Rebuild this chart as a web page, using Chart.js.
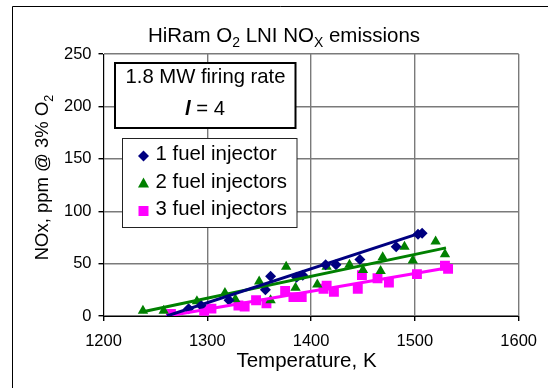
<!DOCTYPE html>
<html>
<head>
<meta charset="utf-8">
<script src="https://cdn.jsdelivr.net/npm/chart.js@4.4.0/dist/chart.umd.min.js"></script>
<style>
  html, body { margin: 0; padding: 0; background: #fff; }
  #wrap { width: 548px; height: 388px; }
</style>
</head>
<body>
<div id="wrap"><canvas id="chart"></canvas></div>
<script>
// NOx emissions vs temperature, 1, 2 and 3 fuel injectors
const oneInjT   = [1282, 1294, 1321, 1356, 1361, 1386, 1392, 1414, 1424, 1447, 1482, 1503, 1507];
const oneInjNox = [7, 10, 15, 25, 38, 37, 39, 49, 49, 54, 66, 78, 79];

const twoInjT   = [1238, 1258, 1290, 1317, 1327, 1350, 1361, 1376, 1385, 1406, 1415, 1437, 1450, 1467, 1469, 1490, 1498, 1520, 1529];
const twoInjNox = [5, 5, 14, 22, 16, 33, 15, 47, 27, 30, 47, 49, 44, 43, 56, 66, 53, 71, 59];

const threeInjT   = [1265, 1297, 1304, 1330, 1336, 1347, 1357, 1375, 1383, 1391, 1412, 1415, 1422, 1445, 1449, 1464, 1475, 1502, 1529, 1532];
const threeInjNox = [2, 5, 7, 10, 9, 15, 12, 24, 18, 18, 26, 29, 23, 26, 39, 36, 32, 40, 48, 45];

// linear trend lines (end points)
const oneFitT = [1261, 1508],   oneFitNox = [0, 80];
const twoFitT = [1238, 1530],   twoFitNox = [4, 65];
const threeFitT = [1262, 1532], threeFitNox = [0, 46];

const xTicks = [1200, 1300, 1400, 1500, 1600];
const yTicks = [0, 50, 100, 150, 200, 250];

const seriesNames = ['1 fuel injector', '2 fuel injectors', '3 fuel injectors'];

const NAVY = '#000080', GREEN = '#008000', PINK = '#ff00ff';
const FONT = '"Liberation Sans", Arial, sans-serif';

const pts = (xs, ys) => xs.map((x, i) => ({ x: x, y: ys[i] }));

function font(size, style) {
  return (style || '') + ' ' + size + 'px ' + FONT;
}

// draws text with subscript pieces, centred on x, baseline at y
function drawRich(ctx, parts, x, y, size) {
  let w = 0;
  parts.forEach(p => {
    ctx.font = font(p.sub ? size * 0.68 : size, p.style);
    w += ctx.measureText(p.t).width;
  });
  let cx = x - w / 2;
  ctx.textAlign = 'left';
  ctx.textBaseline = 'alphabetic';
  parts.forEach(p => {
    ctx.font = font(p.sub ? size * 0.68 : size, p.style);
    ctx.fillText(p.t, cx, y + (p.sub ? size * 0.25 : 0));
    cx += ctx.measureText(p.t).width;
  });
}

function marker(ctx, style, x, y, color) {
  ctx.fillStyle = color;
  ctx.beginPath();
  if (style === 'rectRot') {
    ctx.moveTo(x - 5.5, y); ctx.lineTo(x, y - 5.5); ctx.lineTo(x + 5.5, y); ctx.lineTo(x, y + 5.5);
  } else if (style === 'triangle') {
    ctx.moveTo(x, y - 6); ctx.lineTo(x + 5.5, y + 4); ctx.lineTo(x - 5.5, y + 4);
  } else {
    ctx.rect(x - 5, y - 5, 10, 10);
  }
  ctx.closePath();
  ctx.fill();
}

const decorations = {
  id: 'decorations',
  beforeDraw(chart) {
    const ctx = chart.ctx;
    ctx.save();
    ctx.fillStyle = '#fff';
    ctx.fillRect(0, 0, chart.width, chart.height);
    ctx.restore();
  },
  afterDraw(chart) {
    const ctx = chart.ctx;
    ctx.save();
    // outer frame
    ctx.strokeStyle = '#000';
    ctx.lineWidth = 1;
    ctx.beginPath();
    ctx.moveTo(12.5, 388); ctx.lineTo(12.5, 6.5); ctx.lineTo(548, 6.5);
    ctx.stroke();

    ctx.fillStyle = '#000';
    // chart title
    drawRich(ctx, [{ t: 'HiRam O' }, { t: '2', sub: true }, { t: ' LNI NO' }, { t: 'X', sub: true }, { t: ' emissions' }], 284, 41.5, 20.5);
    // x axis title
    drawRich(ctx, [{ t: 'Temperature, K' }], 306.5, 367, 20.5);
    // y axis title
    ctx.save();
    ctx.translate(48, 177.5);
    ctx.rotate(-Math.PI / 2);
    drawRich(ctx, [{ t: 'NOx, ppm @ 3% O' }, { t: '2', sub: true }], 0, 0, 18.5);
    ctx.restore();

    // condition box
    ctx.fillStyle = '#fff';
    ctx.fillRect(115, 63, 180.5, 65);
    ctx.strokeStyle = '#000';
    ctx.lineWidth = 2;
    ctx.strokeRect(115, 63, 180.5, 65);
    ctx.fillStyle = '#000';
    drawRich(ctx, [{ t: '1.8 MW firing rate' }], 205.5, 83.3, 20.3);
    drawRich(ctx, [{ t: 'l', style: 'italic bold' }, { t: ' = 4' }], 205, 115, 20.3);

    // legend box
    ctx.fillStyle = '#fff';
    ctx.fillRect(122.5, 138.5, 174.5, 89);
    ctx.strokeStyle = '#222';
    ctx.lineWidth = 1;
    ctx.strokeRect(122.5, 138.5, 174.5, 89);
    const styles = ['rectRot', 'triangle', 'rect'];
    const colors = [NAVY, GREEN, PINK];
    const rowY = [153, 180.5, 208];
    seriesNames.forEach((name, i) => {
      marker(ctx, styles[i], 143.5, rowY[i] + 3, colors[i]);
      ctx.fillStyle = '#000';
      ctx.font = font(20.4);
      ctx.textAlign = 'left';
      ctx.textBaseline = 'alphabetic';
      ctx.fillText(name, 155.5, rowY[i] + 7);
    });
    ctx.restore();
  }
};

const scatterSet = (label, data, style, color, radius) => ({
  label: label,
  data: data,
  showLine: false,
  pointStyle: style,
  pointRadius: radius,
  pointHoverRadius: radius,
  pointBackgroundColor: color,
  pointBorderColor: color,
  pointBorderWidth: 0,
  order: 2
});

const fitSet = (data, color) => ({
  label: '',
  data: data,
  showLine: true,
  borderColor: color,
  borderWidth: 3,
  pointRadius: 0,
  fill: false,
  order: 1
});

new Chart(document.getElementById('chart'), {
  type: 'scatter',
  data: {
    datasets: [
      fitSet(pts(oneFitT, oneFitNox), NAVY),
      fitSet(pts(twoFitT, twoFitNox), GREEN),
      fitSet(pts(threeFitT, threeFitNox), PINK),
      scatterSet(seriesNames[0], pts(oneInjT, oneInjNox), 'rectRot', NAVY, 5.5),
      scatterSet(seriesNames[1], pts(twoInjT, twoInjNox), 'triangle', GREEN, 6),
      scatterSet(seriesNames[2], pts(threeInjT, threeInjNox), 'rect', PINK, 7)
    ]
  },
  options: {
    responsive: true,
    maintainAspectRatio: false,
    animation: false,
    layout: { padding: { left: 0, right: 26.5, top: 54, bottom: 30 } },
    plugins: {
      legend: { display: false },
      title: { display: false },
      tooltip: { enabled: false }
    },
    scales: {
      x: {
        type: 'linear',
        min: 1200,
        max: 1600,
        afterBuildTicks: s => { s.ticks = xTicks.map(v => ({ value: v })); },
        afterFit: s => { s.height = 42; },
        grid: { color: '#7a7a7a', lineWidth: 1.4, tickLength: 5, tickColor: '#000' },
        border: { color: '#000', width: 1 },
        ticks: { color: '#000', font: { family: FONT, size: 16.5 }, padding: 11, maxRotation: 0, callback: v => String(v) }
      },
      y: {
        min: 0,
        max: 250,
        afterBuildTicks: s => { s.ticks = yTicks.map(v => ({ value: v })); },
        afterFit: s => { s.width = 103.5; },
        grid: { color: '#7a7a7a', lineWidth: 1.4, tickLength: 5, tickColor: '#000' },
        border: { color: '#000', width: 1 },
        ticks: { color: '#000', font: { family: FONT, size: 16.5 }, padding: 7, callback: v => String(v) }
      }
    }
  },
  plugins: [decorations]
});
</script>
</body>
</html>
